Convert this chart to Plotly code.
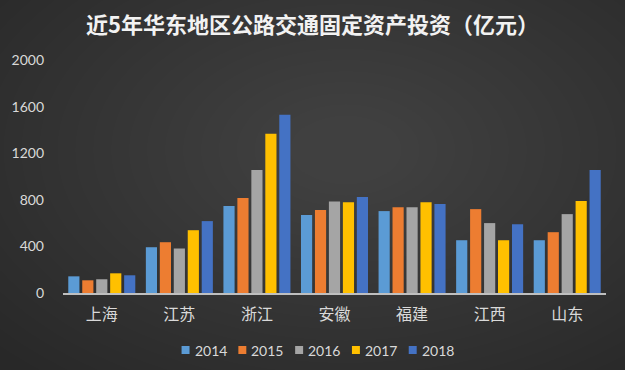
import plotly.graph_objects as go

categories = ["上海", "江苏", "浙江", "安徽", "福建", "江西", "山东"]
years = ["2014", "2015", "2016", "2017", "2018"]
v2014 = [143, 393, 746, 669, 703, 453, 453]
v2015 = [109, 436, 815, 712, 737, 720, 522]
v2016 = [118, 382, 1056, 786, 737, 600, 677]
v2017 = [169, 539, 1366, 780, 780, 453, 789]
v2018 = [152, 617, 1529, 824, 763, 591, 1056]
series = [v2014, v2015, v2016, v2017, v2018]
colors = ["#5B9BD5", "#ED7D31", "#A5A5A5", "#FFC000", "#4472C4"]
yticks = [0, 400, 800, 1200, 1600, 2000]

W, H = 625, 370
L, R, T, B = 61, 19, 60, 77
PW, PH = W - L - R, H - T - B


def px(x):
    return (x - L) / PW


def py(y):
    return 1 - (y - T) / PH


fig = go.Figure()
for name, vals, c in zip(years, series, colors):
    fig.add_trace(go.Bar(name=name, x=categories, y=vals,
                         marker=dict(color=c, line=dict(width=0))))

shapes = []
# radial-ish background glow
cx, cy = 345, 150
for k in range(24):
    rx = 470 - k * 18
    ry = rx * 0.62
    shapes.append(dict(type="circle", xref="paper", yref="paper", layer="below",
                       x0=px(cx - rx), x1=px(cx + rx), y0=py(cy + ry), y1=py(cy - ry),
                       fillcolor="rgba(255,255,255,0.0095)", line=dict(width=0)))

annotations = []
for i, (name, c) in enumerate(zip(years, colors)):
    x0 = 180 + 57 * i
    shapes.append(dict(type="rect", xref="paper", yref="paper", layer="above",
                       x0=px(x0), x1=px(x0 + 8), y0=py(354), y1=py(346),
                       fillcolor=c, line=dict(width=0)))
    annotations.append(dict(text=name, xref="paper", yref="paper", x=px(x0 + 11), y=py(350),
                            xanchor="left", yanchor="middle", showarrow=False,
                            font=dict(family="Lato", size=14, color="#d9d9d9")))

fig.update_layout(
    width=W, height=H,
    margin=dict(l=L, r=R, t=T, b=B),
    paper_bgcolor="#282828", plot_bgcolor="rgba(0,0,0,0)",
    barmode="group", bargap=0.1, bargroupgap=0.2,
    title=dict(text="<b>近5年华东地区公路交通固定资产投资（亿元）</b>", x=0.5, xanchor="center",
               y=1 - 25 / H, yanchor="middle",
               font=dict(family="Noto Sans CJK SC", size=22, color="#f2f2f2")),
    font=dict(family="Lato, Noto Sans CJK SC", color="#d9d9d9", size=14),
    showlegend=False,
    shapes=shapes,
    annotations=annotations,
)
fig.update_xaxes(showgrid=False, showline=True, linecolor="#bfbfbf", linewidth=2,
                 ticks="", tickfont=dict(family="Noto Sans CJK SC", size=16, color="#d9d9d9"),
                 ticklabelstandoff=6)
fig.update_yaxes(range=[0, 2000], tickvals=yticks, showgrid=False, zeroline=False,
                 showline=False, ticks="", tickfont=dict(family="Lato", size=14, color="#d9d9d9"),
                 ticklabelstandoff=18)

fig.write_html("out.html", config={"displayModeBar": False},
               post_script="document.body.style.margin='0';document.body.style.overflow='hidden';")
